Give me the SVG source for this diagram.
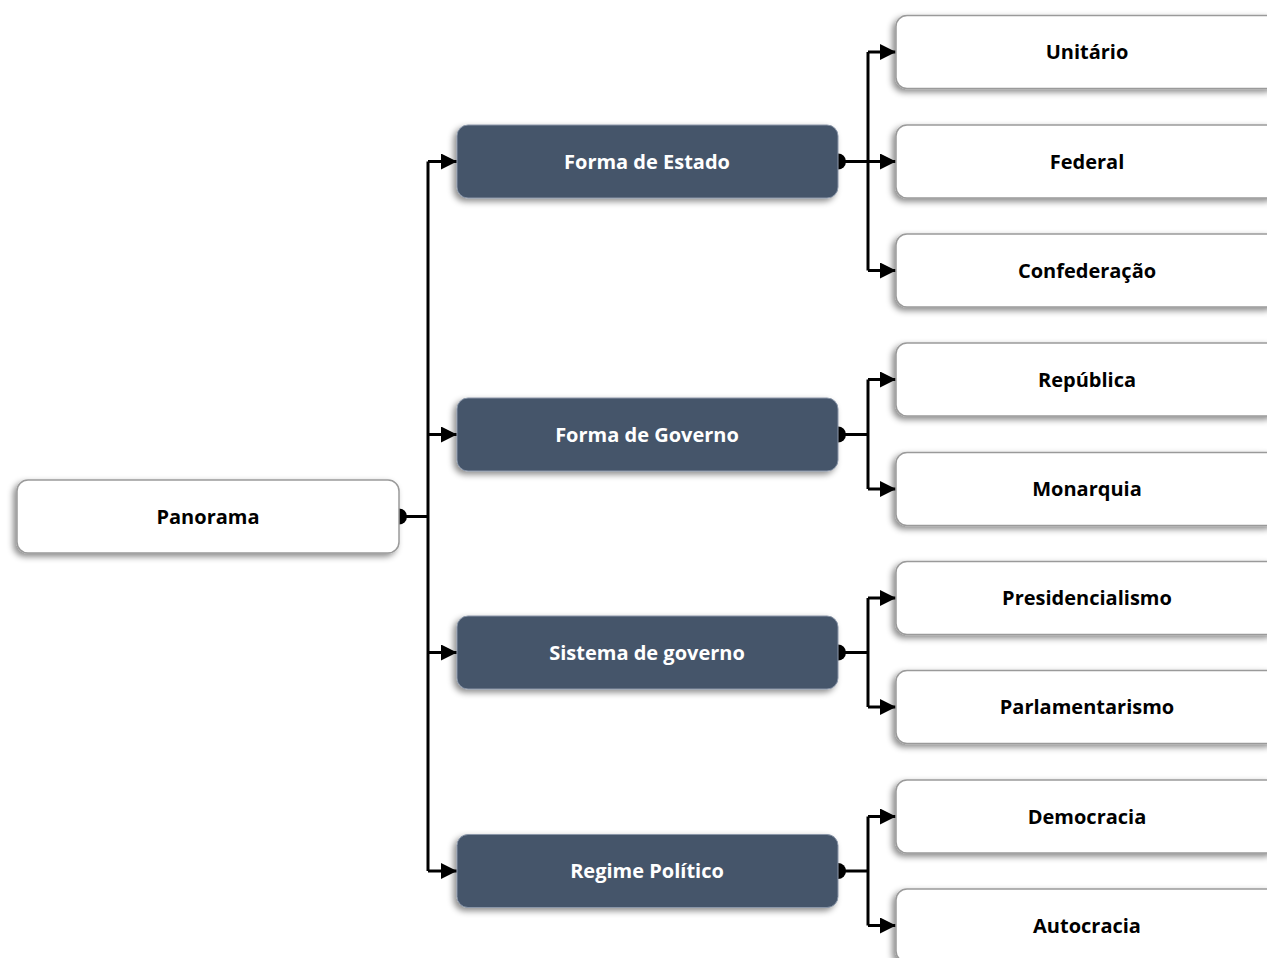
<svg xmlns="http://www.w3.org/2000/svg" width="1267" height="958" viewBox="0 0 1267 958">
<style>
.w{fill:#fff;stroke:#9a9a9a;stroke-width:1.5}
.d{fill:#44546a;stroke:#8a96a8;stroke-width:1}
.t{font-family:"Open Sans","Liberation Sans",sans-serif;font-weight:700;font-size:20px;text-anchor:middle;dominant-baseline:central}
.tw{fill:#fff}
.tb{fill:#000}
.c{fill:none;stroke:#000;stroke-width:3}
</style>
<defs>
<filter id="sh" x="-10%" y="-30%" width="120%" height="160%">
<feDropShadow dx="-3" dy="3" stdDeviation="3" flood-color="#000" flood-opacity="0.45"/>
</filter>
<marker id="ar" viewBox="0 0 16 16" refX="16" refY="8" markerWidth="16" markerHeight="16" markerUnits="userSpaceOnUse" orient="auto">
<path d="M0,0 L16,8 L0,16 Z" fill="#000"/>
</marker>
</defs>
<g id="connectors">
<path class="c" d="M399,516.5 H428"/>
<path class="c" d="M428,161.5 V871"/>
<path class="c" d="M428,161.5 H457" marker-end="url(#ar)"/>
<path class="c" d="M428,434.5 H457" marker-end="url(#ar)"/>
<path class="c" d="M428,652.5 H457" marker-end="url(#ar)"/>
<path class="c" d="M428,871 H457" marker-end="url(#ar)"/>
<path d="M399,508.5 A8,8 0 0 1 399,524.5 Z" fill="#000"/>
<path class="c" d="M838,161.5 H868"/>
<path class="c" d="M868,52 V270.5"/>
<path class="c" d="M868,52 H896" marker-end="url(#ar)"/>
<path class="c" d="M868,161.5 H896" marker-end="url(#ar)"/>
<path class="c" d="M868,270.5 H896" marker-end="url(#ar)"/>
<path d="M838,153.5 A8,8 0 0 1 838,169.5 Z" fill="#000"/>
<path class="c" d="M838,434.5 H868"/>
<path class="c" d="M868,379.5 V489"/>
<path class="c" d="M868,379.5 H896" marker-end="url(#ar)"/>
<path class="c" d="M868,489 H896" marker-end="url(#ar)"/>
<path d="M838,426.5 A8,8 0 0 1 838,442.5 Z" fill="#000"/>
<path class="c" d="M838,652.5 H868"/>
<path class="c" d="M868,598 V707"/>
<path class="c" d="M868,598 H896" marker-end="url(#ar)"/>
<path class="c" d="M868,707 H896" marker-end="url(#ar)"/>
<path d="M838,644.5 A8,8 0 0 1 838,660.5 Z" fill="#000"/>
<path class="c" d="M838,871 H868"/>
<path class="c" d="M868,816.5 V925.5"/>
<path class="c" d="M868,816.5 H896" marker-end="url(#ar)"/>
<path class="c" d="M868,925.5 H896" marker-end="url(#ar)"/>
<path d="M838,863 A8,8 0 0 1 838,879 Z" fill="#000"/>
</g>
<g id="panorama"><rect class="w" x="17" y="480" width="382" height="73" rx="11" filter="url(#sh)"/><text class="t tb" x="208" y="516">Panorama</text></g>
<g id="forma-estado"><rect class="d" x="457" y="125" width="381" height="73" rx="11" filter="url(#sh)"/><text class="t tw" x="647" y="161">Forma de Estado</text></g>
<g id="forma-governo"><rect class="d" x="457" y="398" width="381" height="73" rx="11" filter="url(#sh)"/><text class="t tw" x="647" y="434">Forma de Governo</text></g>
<g id="sistema-governo"><rect class="d" x="457" y="616" width="381" height="73" rx="11" filter="url(#sh)"/><text class="t tw" x="647" y="652">Sistema de governo</text></g>
<g id="regime-politico"><rect class="d" x="457" y="834.5" width="381" height="73" rx="11" filter="url(#sh)"/><text class="t tw" x="647" y="870.5">Regime Político</text></g>
<g id="unitario"><rect class="w" x="896" y="15.5" width="382" height="73" rx="11" filter="url(#sh)"/><text class="t tb" x="1087" y="51.5">Unitário</text></g>
<g id="federal"><rect class="w" x="896" y="125" width="382" height="73" rx="11" filter="url(#sh)"/><text class="t tb" x="1087" y="161">Federal</text></g>
<g id="confederacao"><rect class="w" x="896" y="234" width="382" height="73" rx="11" filter="url(#sh)"/><text class="t tb" x="1087" y="270">Confederação</text></g>
<g id="republica"><rect class="w" x="896" y="343" width="382" height="73" rx="11" filter="url(#sh)"/><text class="t tb" x="1087" y="379">República</text></g>
<g id="monarquia"><rect class="w" x="896" y="452.5" width="382" height="73" rx="11" filter="url(#sh)"/><text class="t tb" x="1087" y="488.5">Monarquia</text></g>
<g id="presidencialismo"><rect class="w" x="896" y="561.5" width="382" height="73" rx="11" filter="url(#sh)"/><text class="t tb" x="1087" y="597.5">Presidencialismo</text></g>
<g id="parlamentarismo"><rect class="w" x="896" y="670.5" width="382" height="73" rx="11" filter="url(#sh)"/><text class="t tb" x="1087" y="706.5">Parlamentarismo</text></g>
<g id="democracia"><rect class="w" x="896" y="780" width="382" height="73" rx="11" filter="url(#sh)"/><text class="t tb" x="1087" y="816">Democracia</text></g>
<g id="autocracia"><rect class="w" x="896" y="889" width="382" height="73" rx="11" filter="url(#sh)"/><text class="t tb" x="1087" y="925">Autocracia</text></g>
</svg>
